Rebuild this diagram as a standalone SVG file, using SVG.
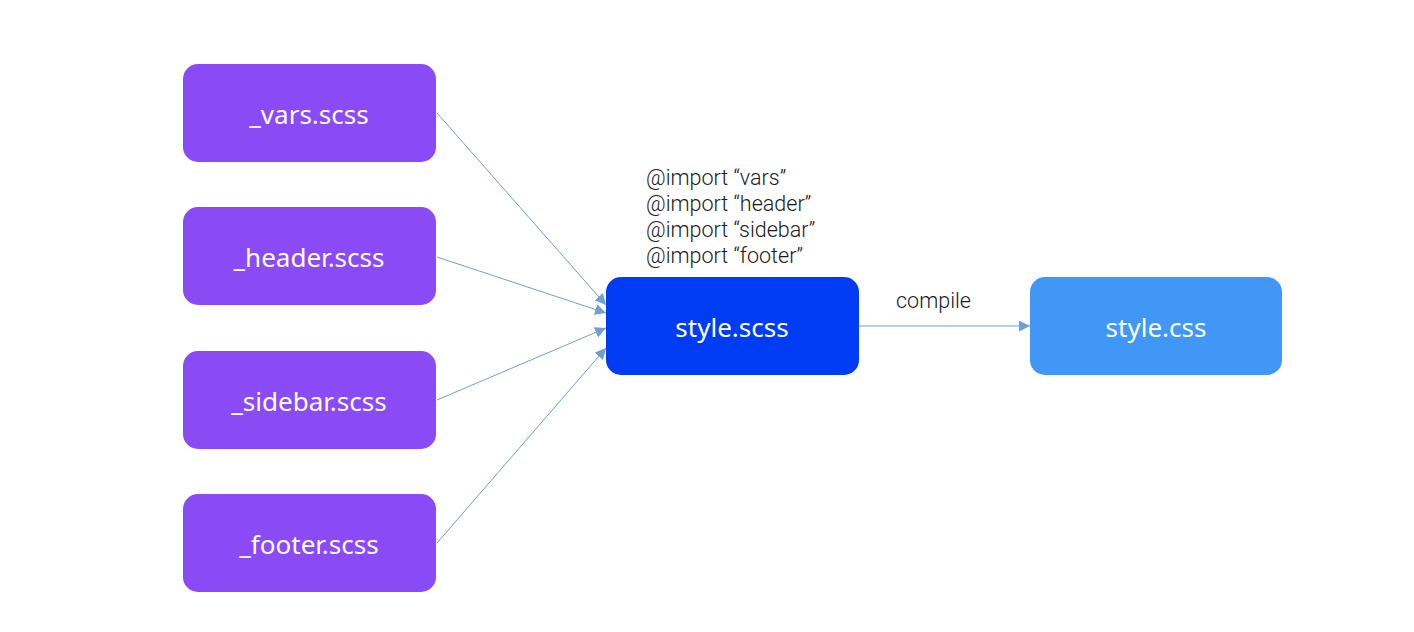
<svg xmlns="http://www.w3.org/2000/svg" width="1414" height="632" viewBox="0 0 1414 632">
<style>
.n rect{stroke:none}
.p{fill:#8a4af6}
.lbl{font-family:"Noto Sans","Open Sans",sans-serif;font-size:26px;fill:#ffffff;text-anchor:middle;dominant-baseline:central}
.imp{font-family:Roboto,"Liberation Sans",sans-serif;font-size:21.5px;font-weight:300;fill:#1a1a1a}
.e{stroke:#6f9fd4;stroke-width:1;fill:none;marker-end:url(#ah)}
</style>
<defs>
<marker id="ah" viewBox="0 0 10 10" refX="10" refY="5" markerWidth="11" markerHeight="11" markerUnits="userSpaceOnUse" orient="auto">
<path d="M0,0 L10,5 L0,10 z" fill="#6f9fd4"/>
</marker>
</defs>
<rect width="1414" height="632" fill="#ffffff"/>
<g id="connectors">
<line class="e" x1="437" y1="113" x2="606" y2="305"/>
<line class="e" x1="437" y1="257" x2="606" y2="313"/>
<line class="e" x1="437" y1="400" x2="606" y2="328"/>
<line class="e" x1="437" y1="543" x2="606" y2="348"/>
<line class="e" x1="859" y1="326" x2="1030" y2="326"/>
<text class="imp" x="896" y="308">compile</text>
</g>
<g id="vars" class="n"><rect class="p" x="183" y="64" width="253" height="98" rx="15"/><text class="lbl" x="309" y="114">_vars.scss</text></g>
<g id="header" class="n"><rect class="p" x="183" y="207" width="253" height="98" rx="15"/><text class="lbl" x="309" y="257">_header.scss</text></g>
<g id="sidebar" class="n"><rect class="p" x="183" y="351" width="253" height="98" rx="15"/><text class="lbl" x="309" y="401">_sidebar.scss</text></g>
<g id="footer" class="n"><rect class="p" x="183" y="494" width="253" height="98" rx="15"/><text class="lbl" x="309" y="544">_footer.scss</text></g>
<g id="style-scss" class="n">
<text class="imp" x="646" y="185">@import “vars”</text>
<text class="imp" x="646" y="211">@import “header”</text>
<text class="imp" x="646" y="237">@import “sidebar”</text>
<text class="imp" x="646" y="263">@import “footer”</text>
<rect x="606" y="277" width="253" height="98" rx="15" fill="#013cf5"/><text class="lbl" x="732" y="327">style.scss</text></g>
<g id="style-css" class="n"><rect x="1030" y="277" width="252" height="98" rx="15" fill="#4097f6"/><text class="lbl" x="1156" y="327">style.css</text></g>
</svg>
